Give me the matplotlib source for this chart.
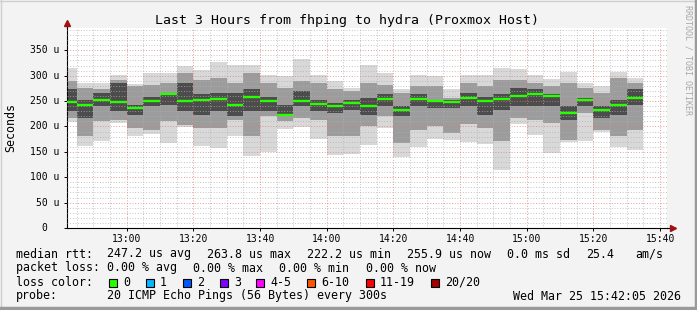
import matplotlib
matplotlib.use("Agg")
import matplotlib.pyplot as plt
from matplotlib.patches import Rectangle
from matplotlib.lines import Line2D
import matplotlib.transforms as mtransforms

plt.rcParams['font.family'] = ['DejaVu Sans Mono']

# start of each 5 minute bin
bin_start = ['12:40', '12:45', '12:50', '12:55', '13:00', '13:05', '13:10', '13:15',
             '13:20', '13:25', '13:30', '13:35', '13:40', '13:45', '13:50', '13:55',
             '14:00', '14:05', '14:10', '14:15', '14:20', '14:25', '14:30', '14:35',
             '14:40', '14:45', '14:50', '14:55', '15:00', '15:05', '15:10', '15:15',
             '15:20', '15:25', '15:30']

# round trip times in microseconds
rtt_median = [247.5, 243, 252.8, 249, 235.5, 251, 263, 251, 252.8, 255, 241.5, 259,
              249.5, 222.2, 251, 243.6, 239.7, 245.3, 239.7, 254.8, 232, 254.8, 249.5,
              247.5, 256.5, 249.5, 254.8, 259.2, 263.8, 259.2, 227.5, 251.5, 232, 241.5,
              255.9]
rtt_max = [316, 286, 286, 302, 284, 305, 305, 320, 312, 328, 321, 322, 302, 299, 332,
           302, 289, 276, 322, 305, 273, 302, 299, 273, 302, 302, 315, 313, 302, 294,
           307, 286, 279, 307, 296]
rtt_min = [209, 162, 171, 207, 182, 185, 167, 199, 161, 158, 182, 141, 150, 195, 198,
           175, 144.5, 146, 164, 197, 139, 159, 176, 173, 170, 166, 115, 204, 184, 148,
           170, 172, 190, 159, 153]
rtt_hi2 = [289, 276, 273, 292, 279, 282, 286, 305, 292, 296, 286, 305, 286, 276, 289,
           286, 273, 269, 286, 282, 266, 279, 279, 256, 286, 279, 292, 292, 286, 279,
           286, 276, 266, 296, 286]
rtt_lo2 = [217, 181, 210, 213, 197, 194, 210, 202, 197, 197, 213, 181, 220, 210, 217,
           213, 181, 181, 200, 220, 168, 194, 200, 187, 204, 197, 171, 217, 213, 207,
           174, 227, 194, 181, 194]
rtt_hi3 = [273, 253, 266, 286, 243, 259, 266, 286, 263, 266, 266, 273, 259, 243, 269,
           253, 246, 253, 256, 263, 240, 263, 253, 253, 266, 259, 263, 276, 273, 263,
           240, 256, 240, 253, 273]
rtt_lo3 = [230, 217, 240, 230, 223, 240, 243, 230, 223, 230, 220, 230, 230, 220, 240,
           230, 227, 233, 223, 240, 220, 240, 237, 237, 240, 223, 233, 240, 240, 240,
           213, 240, 217, 223, 243]

x_ticks = ['13:00', '13:20', '13:40', '14:00', '14:20', '14:40', '15:00', '15:20', '15:40']
y_ticks = [0, 50, 100, 150, 200, 250, 300, 350]
y_labels = ['0', '50 u', '100 u', '150 u', '200 u', '250 u', '300 u', '350 u']

loss_labels = ['0', '1', '2', '3', '4-5', '6-10', '11-19', '20/20']
loss_colors = ['#26ff00', '#00b8ff', '#0059ff', '#7e00ff', '#ff00ff', '#ff5500', '#ff0000', '#a10000']


def minutes(s):
    h, m = s.split(':')
    return int(h) * 60 + int(m)


W, H = 697, 310
x = [minutes(s) for s in bin_start]

fig = plt.figure(figsize=(W / 100, H / 100), dpi=100, facecolor='#f3f3f3')
ax = fig.add_axes([67 / W, 82 / H, 600 / W, 200 / H])
ax.set_facecolor('white')

# smoke: outer, middle and core bands
def band(lo, hi, color):
    ax.bar(x, [h - l for l, h in zip(lo, hi)], bottom=lo, width=5, align='edge',
           color=color, linewidth=0, antialiased=False, zorder=1)

band(rtt_min, rtt_max, '#d8d8d8')
band(rtt_lo2, rtt_hi2, '#9c9c9c')
band(rtt_lo3, rtt_hi3, '#4c4c4c')
ax.hlines(rtt_median, x, [v + 5 for v in x], color='#26ff00', linewidth=1.7, zorder=3)

ax.set_xlim(minutes('12:42') + 5 / 60, minutes('15:42') + 5 / 60)
ax.set_ylim(0, 394)

ax.set_xticks([minutes(s) for s in x_ticks])
ax.set_xticklabels(x_ticks)
ax.set_xticks(range(765, 945, 5), minor=True)
ax.set_yticks(y_ticks)
ax.set_yticklabels([])
ax.set_yticks(range(0, 400, 10), minor=True)

ax.set_axisbelow(False)
ax.grid(which='minor', color='#b0b0b0', linestyle=(0, (1, 2)), linewidth=0.65, alpha=0.85)
ax.grid(which='major', color='#e27878', linestyle=(0, (1, 2)), linewidth=0.65, alpha=0.85)
ax.tick_params(which='minor', length=0)
ax.tick_params(which='major', length=2, width=0.7, labelsize=7, pad=2.5, colors='black')

for s in ['top', 'right']:
    ax.spines[s].set_visible(False)
for s in ['left', 'bottom']:
    ax.spines[s].set_linewidth(0.8)

# y tick labels, right aligned like rrdtool
tr = mtransforms.blended_transform_factory(ax.transAxes, ax.transData)
for v, lab in zip(y_ticks, y_labels):
    xoff = -8 / 600 if lab.endswith('u') else -20 / 600
    ax.text(xoff, v, lab, transform=tr, ha='right', va='center', fontsize=7)

# axis arrows
ax.plot([0, 0], [1, 1.02], transform=ax.transAxes, color='black', lw=0.8, clip_on=False)
ax.plot([1, 1.012], [0, 0], transform=ax.transAxes, color='black', lw=0.8, clip_on=False)
ax.plot([0], [1.025], transform=ax.transAxes, marker='^', ms=4.5, color='#a01010', clip_on=False)
ax.plot([1.01], [0], transform=ax.transAxes, marker='>', ms=4.5, color='#a01010', clip_on=False)

def fy(py):
    return 1 - py / H

fig.text(347 / W, fy(24), 'Last 3 Hours from fhping to hydra (Proxmox Host)',
         ha='center', va='baseline', fontsize=9.5)
fig.text(11 / W, fy(128), 'Seconds', rotation=90, ha='center', va='center', fontsize=8.4)
fig.text(688 / W, fy(60), 'RRDTOOL / TOBI OETIKER', rotation=270, ha='center',
         va='center', fontsize=6, color='#a8a8a8')

# legend rows
fs = 8.4
rows = [
    (257.5, [(16, 'median rtt:'), (107, '247.2 us avg'), (207, '263.8 us max'),
             (307, '222.2 us min'), (407, '255.9 us now'), (507, '0.0 ms sd'),
             (586, '25.4'), (635, 'am/s')]),
    (271.5, [(16, 'packet loss:'), (107, '0.00 % avg'), (193, '0.00 % max'),
             (279, '0.00 % min'), (366, '0.00 % now')]),
    (285.5, [(16, 'loss color:')]),
    (299.5, [(16, 'probe:'), (107, '20 ICMP Echo Pings (56 Bytes) every 300s'),
             (513, 'Wed Mar 25 15:42:05 2026')]),
]
for yb, items in rows:
    for px, s in items:
        fig.text(px / W, fy(yb), s, ha='left', va='baseline', fontsize=fs)

sq_x = [108.5, 145.5, 182.5, 219.5, 256, 307, 365.5, 430.5]
for px, lab, col in zip(sq_x, loss_labels, loss_colors):
    fig.add_artist(Rectangle((px / W, fy(286.5)), 8 / W, 8 / H, transform=fig.transFigure,
                             facecolor=col, edgecolor='black', linewidth=0.8))
    fig.text((px + 14.5) / W, fy(285.5), lab, ha='left', va='baseline', fontsize=fs)

# 3d frame round the image
fig.add_artist(Line2D([0, 1], [1 - 0.5 / H] * 2, transform=fig.transFigure, color='#cfcfcf', lw=1))
fig.add_artist(Line2D([0.5 / W] * 2, [0, 1], transform=fig.transFigure, color='#cfcfcf', lw=1))
fig.add_artist(Line2D([0, 1], [2 / H] * 2, transform=fig.transFigure, color='#9a9a9a', lw=2.5))
fig.add_artist(Line2D([1 - 1.5 / W] * 2, [0, 1], transform=fig.transFigure, color='#9a9a9a', lw=2.5))

fig.savefig('out.png', dpi=100, facecolor=fig.get_facecolor())
